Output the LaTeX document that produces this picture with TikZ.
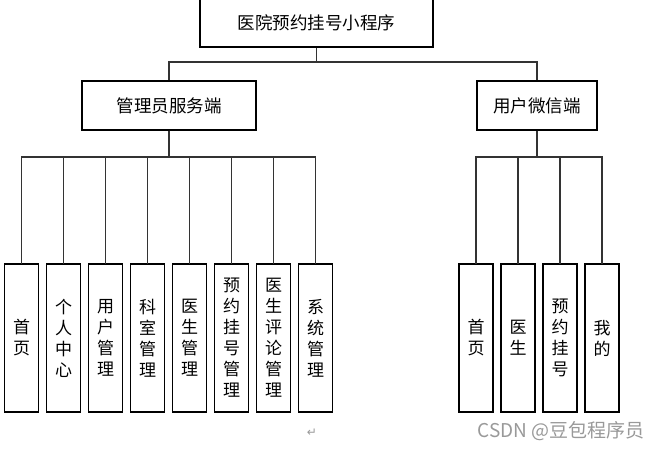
\documentclass[tikz,border=0pt]{standalone}
\usepackage{fontspec}
\setmainfont{Noto Sans CJK SC}
\newfontfamily\symfont{DejaVu Sans}
\usetikzlibrary{positioning,calc}
\tikzset{%
	rootbox/.style  = {draw, rectangle, line width=1.1pt, minimum width=233pt, minimum height=49pt, font=\fontsize{17.5}{21}\selectfont},
	sidebox/.style  = {draw, rectangle, line width=1.1pt, minimum height=49pt, font=\fontsize{17.5}{21}\selectfont},
	leaf/.style     = {draw, rectangle, line width=1.1pt, outer sep=0pt, minimum width=34pt, minimum height=148pt, inner sep=1pt, align=center, font=\fontsize{17}{21}\selectfont},
	link/.style     = {line width=1.1pt, draw=black!80},
}

\begin{document}
\begin{tikzpicture}[x=1pt,y=-1pt]
	\useasboundingbox (0,0) rectangle (662,451);
	% top level
	\node [rootbox] (root) at (316.5,22.5) {医院预约挂号小程序};
	\node [sidebox,minimum width=174pt] (admin) at (169,105.5) {管理员服务端};
	\node [sidebox,minimum width=120pt] (user) at (537,105.5) {用户微信端};
	\coordinate (topbus) at (0,62);
	\coordinate (leafbus) at (0,157);
	
	\draw[link] (root.south) -- (root.south |- topbus) -| (admin.north);
	\draw[link] (root.south |- topbus) -| (user.north);
	
	% admin side
	\node [leaf] (a1) at (21.5,338) {首\\页};
	\foreach \txt [count=\i from 2, remember=\i as \lasti (initially 1)] in
		{{个\\人\\中\\心},{用\\户\\管\\理},{科\\室\\管\\理},{医\\生\\管\\理},
		 {预\\约\\挂\\号\\管\\理},{医\\生\\评\\论\\管\\理},{系\\统\\管\\理}}
		\node [leaf,right=8pt of a\lasti] (a\i) {\txt};
	\foreach \i in {1,...,8}
		\draw[link] (admin.south) -- (admin.south |- leafbus) -| (a\i.north);
	
	% user side
	\node [leaf] (u1) at (476,338) {首\\页};
	\foreach \txt [count=\i from 2, remember=\i as \lasti (initially 1)] in
		{{医\\生},{预\\约\\挂\\号},{我\\的}}
		\node [leaf,right=8pt of u\lasti] (u\i) {\txt};
	\foreach \i in {1,...,4}
		\draw[link] (user.south) -- (user.south |- leafbus) -| (u\i.north);
	
	% marks
	\node [text=black!40, font=\symfont\fontsize{12}{14}\selectfont] (para) at (312,433) {↵};
	\node [text=black!40, font=\fontsize{19}{22}\selectfont] (mark) at (561,431) {CSDN @豆包程序员};
\end{tikzpicture}
\end{document}
